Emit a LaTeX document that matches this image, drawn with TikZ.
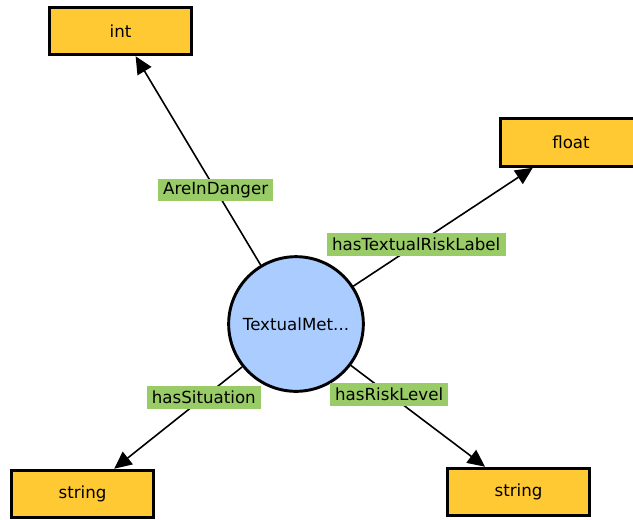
\documentclass[tikz,border=0pt]{standalone}
\usepackage{fontspec}
\setmainfont{DejaVu Sans}
\usepackage{xcolor}
\usepackage{tikz}
\usetikzlibrary{calc}
\usetikzlibrary{arrows.meta}
\definecolor{DTYellow}{HTML}{FFC933}
\definecolor{ClsBlue}{HTML}{AACCFF}
\definecolor{PropGreen}{HTML}{99CC66}
\tikzset{
DT/.style = {draw=black,
        line width=2.4pt,
        fill=DTYellow,
        minimum width=106pt,
        minimum height=35.5pt,
        inner sep=0pt,
        font=\fontsize{12.5}{15}\selectfont
            },
% other common sty definitions like
CLS/.style = {circle,
        draw=black,
        line width=2.2pt,
        fill=ClsBlue,
        minimum size=101pt,
        inner sep=0pt,
        font=\fontsize{12.5}{15}\selectfont
            }
        }
\tikzset{
PROP/.style = {line width=1.2pt,
        black,
        -{Triangle[length=13pt,width=12pt]}
            },
% other common sty definitions like
PL/.style = {fill=PropGreen,
        inner xsep=4pt,
        inner ysep=2pt,
        minimum height=17pt,
        text=black,
        font=\fontsize{12.5}{15}\selectfont
            }
        }

\begin{document}
\begin{tikzpicture}[x=0.75pt,y=-0.75pt]

%%% Defining points:

\useasboundingbox (0,0) rectangle (633,519);

\coordinate (C0) at (296,324);
\coordinate (D1) at (120.5,31);
\coordinate (D2) at (571,142.5);
\coordinate (D3) at (82.5,494);
\coordinate (D4) at (518.5,492);

\node[CLS] (tm) at (C0) {TextualMet...};

\node[DT] (int)     at (D1) {int};
\node[DT] (float)   at (D2) {float};
\node[DT] (strsit)  at (D3) {string};
\node[DT] (strrisk) at (D4) {string};



\draw[PROP] 
     (tm) -- 
     node[PL, pos=0.36] {AreInDanger} 
     (int);

\draw[PROP] 
     (tm) -- 
     node[PL, pos=0.35] {hasTextualRiskLabel} 
     (float);

\draw[PROP] 
     (tm) -- 
     node[PL, pos=0.30] {hasSituation} 
     (strsit);

\draw[PROP] 
     (tm) -- 
     node[PL, pos=0.285] {hasRiskLevel} 
     (strrisk);



\end{tikzpicture}
\end{document}
